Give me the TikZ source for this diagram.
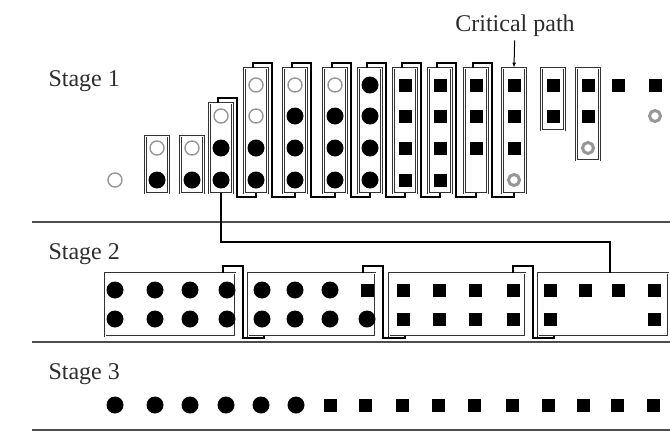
\documentclass[tikz,border=0pt]{standalone}
\usepackage{fontspec}
\setmainfont{Liberation Serif}
\usepackage{tikz}
\usetikzlibrary{arrows.meta, calc}
\definecolor{ringgrey}{RGB}{150, 150, 150}
\definecolor{textgrey}{RGB}{45, 45, 45}

\begin{document}
\begin{tikzpicture}[x=1pt, y=-1pt,
  every node/.style={font=\fontsize{24}{28}\selectfont, text=textgrey},
  grp/.style={rectangle, draw=black!80, double=white, double distance=1pt, line width=0.6pt, inner sep=0pt, minimum width=23pt},
  link/.style={draw=black, line width=2pt},
  sep/.style={draw=black!70, line width=1.8pt},
  dN/.style={inner sep=0pt, minimum size=1pt},
  dF/.style={circle, fill=black, inner sep=0pt, minimum size=17pt},
  dO/.style={circle, draw=ringgrey, line width=1.4pt, inner sep=0pt, minimum size=14pt},
  dR/.style={circle, draw=ringgrey, line width=3pt, inner sep=0pt, minimum size=11pt},
  dS/.style={rectangle, fill=black, inner sep=0pt, minimum size=13pt}]
\useasboundingbox (0,0) rectangle (670,434);

% stage labels and separators
\node[anchor=base west] (st1) at (45,86) {Stage 1};
\node[anchor=base west] (st2) at (45,259) {Stage 2};
\node[anchor=base west] (st3) at (45,379) {Stage 3};
\draw[sep] (32,222) -- (670,222);
\draw[sep] (32,342) -- (670,342);
\draw[sep] (32,430) -- (670,430);

% stage 1
\foreach \x/\a/\b/\c/\d [count=\i] in {115/N/N/N/O, 157/N/N/O/F, 192/N/N/O/F, 221/N/O/F/F, 256/O/O/F/F, 295/O/F/F/F, 335/O/F/F/F, 370/F/F/F/F, 405/S/S/S/S, 440/S/S/S/S, 476/S/S/S/N, 514/S/S/S/R, 553/S/S/N/N, 588/S/S/R/N, 618/S/N/N/N, 655/S/R/N/N}{
  \node[d\a] (p\i a) at (\x,85) {};
  \node[d\b] (p\i b) at (\x,116) {};
  \node[d\c] (p\i c) at (\x,148) {};
  \node[d\d] (p\i d) at (\x,180) {};
}
\node[grp, minimum height=57pt] (g2) at (157,164.5) {};
\node[grp, minimum height=57pt] (g3) at (192,164.5) {};
\node[grp, minimum height=90pt] (g4) at (221,148) {};
\foreach \x [count=\i from 5] in {256,295,335,370,405,440,476,514}
  \node[grp, minimum height=125pt] (g\i) at (\x,130.5) {};
\node[grp, minimum height=62pt] (g13) at (553,99) {};
\node[grp, minimum height=92pt] (g14) at (588,114) {};
\foreach \k [evaluate=\k as \n using int(\k+1)] in {4,...,11}
  \draw[link] ($(g\k.north)+(-3,0)$) -- ++(0,-5) -| ($(g\k.south east)+(4,4)$) -| (g\n.south);

\node (crit) at (515,26) {Critical path};
\draw[-{Latex[length=1.8mm]}, line width=1pt] (crit) -- (g12.north);

% stage 2
\node[grp, minimum width=130pt, minimum height=63pt] (ga) at (170,304.5) {};
\node[grp, minimum width=127pt, minimum height=63pt] (gb) at (311.5,304.5) {};
\node[grp, minimum width=136pt, minimum height=63pt] (gc) at (457,304.5) {};
\node[grp, minimum width=130pt, minimum height=63pt] (gd) at (603,304.5) {};
\foreach \p/\q in {ga/gb, gb/gc, gc/gd}
  \draw[link] ($(\p.north east)+(-12,0)$) -- ++(0,-7) -| ($(\p.south east)+(8,2)$) -| ($(\q.south west)+(16,0)$);
\foreach \x/\a/\b [count=\i] in {115/F/F, 155/F/F, 190/F/F, 227/F/F, 262/F/F, 295/F/F, 330/F/F, 367/S/F, 403/S/S, 439/S/S, 475/S/S, 513/S/S, 550/S/S, 585/S/N, 618/S/N, 654/S/S}{
  \node[d\a] (q\i a) at (\x,290) {};
  \node[d\b] (q\i b) at (\x,319) {};
}
\coordinate (bend) at (610,242);
\draw[link] (g4.south) |- (bend) -- (bend |- gd.north);

% stage 3
\foreach \x/\a [count=\i] in {115/F, 155/F, 190/F, 226/F, 261/F, 296/F, 330/S, 365/S, 402/S, 438/S, 474/S, 512/S, 548/S, 583/S, 617/S, 653/S}
  \node[d\a] (t\i) at (\x,405) {};
\end{tikzpicture}
\end{document}
